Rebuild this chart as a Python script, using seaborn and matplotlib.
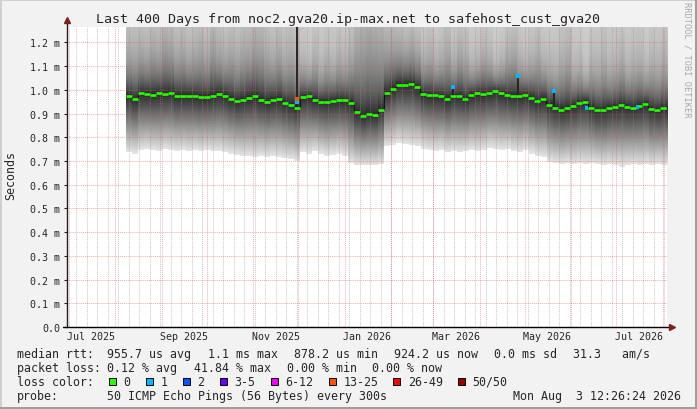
import matplotlib
matplotlib.use('Agg')
import matplotlib.pyplot as plt
import matplotlib.dates as mdates
from matplotlib.patches import Rectangle
import numpy as np
import pandas as pd
import seaborn as sns

# ---- data (values in ms) ----
t_end = pd.Timestamp('2026-08-03 12:26:24')
t_start = t_end - pd.Timedelta(days=400)

# one consolidated sample every 4 days, first one on 2025-08-07
first_sample = pd.Timestamp('2025-08-07 20:26')
step = pd.Timedelta(days=4)

median_ms = [0.975, 0.960, 0.985, 0.982, 0.980, 0.985, 0.983, 0.988, 0.975, 0.975,
             0.976, 0.972, 0.968, 0.968, 0.975, 0.983, 0.975, 0.962, 0.952, 0.958,
             0.965, 0.972, 0.958, 0.950, 0.957, 0.960, 0.945, 0.938, 0.925, 0.968,
             0.972, 0.958, 0.950, 0.948, 0.952, 0.955, 0.955, 0.945, 0.905, 0.888,
             0.898, 0.895, 0.917, 0.988, 1.005, 1.022, 1.022, 1.024, 1.010, 0.982,
             0.978, 0.977, 0.972, 0.960, 0.975, 0.972, 0.962, 0.980, 0.985, 0.982,
             0.987, 0.993, 0.985, 0.977, 0.975, 0.972, 0.978, 0.965, 0.952, 0.962,
             0.938, 0.925, 0.917, 0.922, 0.933, 0.945, 0.950, 0.925, 0.913, 0.915,
             0.924, 0.928, 0.935, 0.928, 0.925, 0.932, 0.940, 0.918, 0.913, 0.923,
             0.923]

# fastest ping of each sample (bottom edge of the smoke)
rtt_min_ms = [0.735, 0.730,
              0.745, 0.750, 0.745, 0.740, 0.750, 0.745, 0.740, 0.745, 0.740, 0.745,
              0.740, 0.745, 0.740, 0.740, 0.735,
              0.730, 0.725, 0.720, 0.720, 0.715, 0.720, 0.715, 0.720, 0.715, 0.710,
              0.705, 0.700,
              0.735, 0.730, 0.740, 0.730, 0.720, 0.725, 0.730, 0.720,
              0.690, 0.680, 0.680, 0.680, 0.680, 0.685,
              0.760, 0.765, 0.775, 0.770, 0.765, 0.760,
              0.750, 0.745, 0.740, 0.745, 0.735, 0.740, 0.735, 0.740, 0.745, 0.740, 0.745,
              0.755, 0.750, 0.745, 0.750, 0.740, 0.735, 0.745, 0.730,
              0.720, 0.715,
              0.695, 0.690, 0.685, 0.690, 0.685, 0.690, 0.685, 0.690, 0.685,
              0.680, 0.685, 0.680, 0.675, 0.680, 0.685, 0.680, 0.685, 0.680, 0.685,
              0.680, 0.685]

# level in the upper smoke where it has faded to mid grey
rtt_hi_ms = [1.10, 1.09, 1.11, 1.10, 1.12, 1.11, 1.14, 1.13, 1.10, 1.11, 1.09, 1.10,
             1.11, 1.09, 1.13, 1.11,
             1.09, 1.10, 1.08, 1.10, 1.11, 1.13, 1.12, 1.09, 1.08, 1.10, 1.07, 1.08, 1.06,
             1.06, 1.05, 1.07, 1.04, 1.06, 1.05, 1.07, 1.06, 1.08,
             1.11, 1.12, 1.14, 1.13, 1.12,
             1.13, 1.14, 1.14, 1.13, 1.14, 1.12,
             1.08, 1.09, 1.07, 1.08, 1.10, 1.07, 1.10, 1.08, 1.06, 1.07, 1.09, 1.08,
             1.06, 1.07, 1.09, 1.10, 1.07, 1.06, 1.07, 1.08, 1.06,
             1.04, 1.03, 1.05, 1.07, 1.03, 1.04, 1.02, 1.04, 1.03, 1.05, 1.03, 1.04,
             1.06, 1.03, 1.04, 1.05, 1.03, 1.04, 1.03, 1.05, 1.04]

# single-sample spikes of the median
spike_dates = ['2025-11-29 20:00', '2026-03-14 00:00', '2026-04-26 04:00', '2026-05-20 08:00']
spike_base = [0.925, 0.972, 0.975, 0.922]
spike_top = [1.30, 1.011, 1.057, 0.994]

# median points drawn with a loss colour
loss_dates = ['2025-11-29 20:00', '2025-11-29 20:00', '2026-03-14 00:00', '2026-04-26 04:00',
              '2026-05-20 08:00', '2026-06-11 00:00', '2026-07-15 00:00']
loss_values = [0.962, 0.946, 1.011, 1.057, 0.994, 0.924, 0.928]
loss_bucket = ['13-25', '1', '1', '1', '1', '1', '1']

loss_labels = ['0', '1', '2', '3-5', '6-12', '13-25', '26-49', '50/50']
loss_colors = ['#26ff00', '#00b8ff', '#0059ff', '#6a00ff', '#ee00ff', '#ff5500', '#ff0000', '#a00000']

# ---- style ----
sns.set_theme(style='white')
plt.rcParams['font.family'] = ['DejaVu Sans Mono', 'DejaVu Sans']

W, H = 697, 410
fig = plt.figure(figsize=(W / 100, H / 100), dpi=100, facecolor='#f2f2f2')
ax = fig.add_axes([66.7 / W, 82 / H, 600 / W, 300.5 / H])
ax.set_facecolor('white')
ylim_top = 1.267

times = first_sample + step * np.arange(len(median_ms))

# thin dark median trace (connects the steps)
sns.lineplot(x=times, y=median_ms, drawstyle='steps-post', color='#151515',
             linewidth=0.8, ax=ax, zorder=4)

# smoke: darkest at the median, fading down to the fastest ping and up
ny = 700
y_rows = (np.arange(ny) + 0.5) * ylim_top / ny
n = len(median_ms)
grey = np.ones((ny, n))
alpha = np.zeros((ny, n))
for j in range(n):
    m, lo, hi = median_ms[j], rtt_min_ms[j], rtt_hi_ms[j]
    up = 0.17 + 0.64 * (1 - np.exp(-(y_rows - m) / (hi - m)))
    dn = 0.17 + 0.73 * (m - y_rows) / (m - lo)
    grey[:, j] = np.where(y_rows >= m, up, dn)
    alpha[:, j] = (y_rows >= lo).astype(float)
rgba = np.dstack([grey, grey, grey, alpha])
ax.imshow(rgba, extent=[mdates.date2num(times[0]), mdates.date2num(times[-1] + step), 0, ylim_top],
          origin='lower', aspect='auto', interpolation='nearest', zorder=1)

# grid (drawn over the smoke, as rrdtool does)
for d in pd.date_range('2025-07-06', '2026-08-02', freq='7D'):
    ax.axvline(d, color='#8f8f8f', alpha=0.5, lw=0.7, ls=(0, (1, 1)), zorder=2)
for d in pd.date_range('2025-07-01', '2026-08-01', freq='MS'):
    ax.axvline(d, color='#de5050', alpha=0.45, lw=0.7, ls=(0, (1, 1)), zorder=2)
yticks = np.arange(0, 1.25, 0.1)
for v in yticks[1:]:
    ax.axhline(v, color='#de5050', alpha=0.45, lw=0.7, ls=(0, (1, 1)), zorder=2)

# spikes and median coloured by loss
ax.vlines(pd.to_datetime(spike_dates), spike_base, spike_top, colors='#262626', lw=1.4, zorder=4)
ax.hlines(median_ms, times, times + step, colors=loss_colors[0], lw=1.9, zorder=5)
sns.scatterplot(x=pd.to_datetime(loss_dates), y=loss_values, hue=loss_bucket,
                palette=dict(zip(loss_labels, loss_colors)), marker='s', s=7,
                linewidth=0, legend=False, ax=ax, zorder=6)

ax.set_xlim(t_start, t_end)
ax.set_ylim(0, ylim_top)
ax.set_xlabel('')
ax.set_ylabel('')

# axes with arrows
for s in ax.spines.values():
    s.set_visible(False)
ax.plot([0, 0], [0, 1.02], transform=ax.transAxes, color='#1f1f1f', lw=1, clip_on=False, zorder=7)
ax.plot([-0.006, 1.004], [0, 0], transform=ax.transAxes, color='#000000', lw=1, clip_on=False, zorder=7)
ax.plot([0], [1.022], marker='^', ms=4.5, color='#801f1f', transform=ax.transAxes, clip_on=False, zorder=8)
ax.plot([1.008], [0], marker='>', ms=4.5, color='#801f1f', transform=ax.transAxes, clip_on=False, zorder=8)

ax.set_yticks(yticks)
ax.set_yticklabels(['0.0'] + ['%.1f m' % v for v in yticks[1:]])
label_pos = pd.date_range('2025-07-01', '2026-07-01', freq='2MS') + pd.Timedelta(days=15)
ax.set_xticks(label_pos)
ax.set_xticklabels([d.strftime('%b %Y') for d in label_pos])
ax.tick_params(axis='y', left=True, length=2.2, width=0.8, color='#1f1f1f', pad=2.4, labelsize=7.2)
ax.tick_params(axis='x', bottom=True, length=0, pad=3.0, labelsize=7.2)

# ---- texts ----
def px_text(x, y, s, **kw):
    fig.text(x / W, 1 - y / H, s, va='center', **kw)

px_text(348, 20, 'Last 400 Days from noc2.gva20.ip-max.net to safehost_cust_gva20',
        ha='center', fontsize=9.6)
px_text(10.8, 175.5, 'Seconds', ha='center', rotation=90, fontsize=8.4)
px_text(687.5, 60, 'RRDTOOL / TOBI OETIKER', ha='center', rotation=270, fontsize=6.2,
        color='#a8a8a8')

lg = 8.4
line1 = [(16.7, 'median rtt:'), (107.3, '955.7 us avg'), (207.5, '1.1 ms max'),
         (293.6, '878.2 us min'), (393.6, '924.2 us now'), (493.6, '0.0 ms sd'),
         (572.6, '31.3   am/s')]
line2 = [(16.7, 'packet loss:'), (107.3, '0.12 % avg'), (193.8, '41.84 % max'),
         (286.7, '0.00 % min'), (372.4, '0.00 % now')]
for x, s in line1:
    px_text(x, 354.3, s, fontsize=lg)
for x, s in line2:
    px_text(x, 368.3, s, fontsize=lg)

px_text(16.7, 382.3, 'loss color:', fontsize=lg)
box_left = [108.7, 145.8, 182.5, 219.5, 271.0, 328.8, 393.3, 458.2]
for bx, lab, col in zip(box_left, loss_labels, loss_colors):
    fig.add_artist(Rectangle((bx / W, 1 - 386.0 / H), 7 / W, 7 / H, transform=fig.transFigure,
                             facecolor=col, edgecolor='black', lw=0.7))
    px_text(bx + 14.5, 382.3, lab, fontsize=lg)

px_text(16.7, 396.7, 'probe:', fontsize=lg)
px_text(107.3, 396.7, '50 ICMP Echo Pings (56 Bytes) every 300s', fontsize=lg)
px_text(681, 396.7, 'Mon Aug  3 12:26:24 2026', ha='right', fontsize=lg)

# 3d frame of the rrdtool canvas
for (x0, y0, w, h, c) in [(0, 0, 2, H, '#cfcfcf'), (0, H - 2, W, 2, '#cfcfcf'),
                          (W - 2, 0, 2, H, '#9e9e9e'), (0, 0, W, 2, '#9e9e9e')]:
    fig.add_artist(Rectangle((x0 / W, y0 / H), w / W, h / H, transform=fig.transFigure,
                             facecolor=c, edgecolor='none'))

fig.savefig('out.png', dpi=100, facecolor=fig.get_facecolor())
